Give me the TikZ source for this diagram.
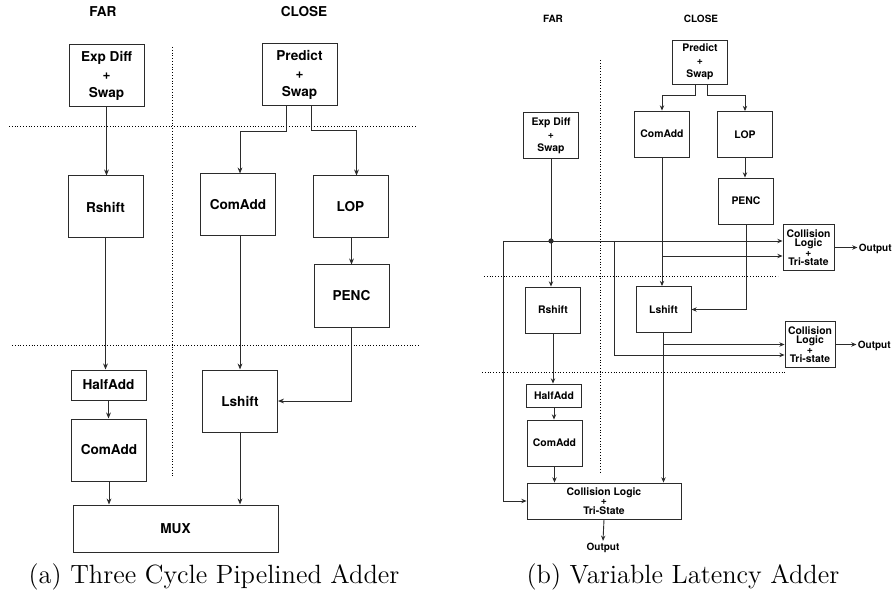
\documentclass[tikz,border=0pt]{standalone}
\usepackage{fontspec}
\setsansfont{TeX Gyre Heros}
\usetikzlibrary{arrows.meta,calc}
\definecolor{edge}{HTML}{2B2B2B}

\begin{document}
\begin{tikzpicture}[x=0.5pt,y=-0.5pt,>={Stealth[length=3pt,width=2.4pt]},
  blk/.style={draw=edge,line width=0.5pt,align=center,inner sep=0pt,font=\sffamily\bfseries\fontsize{6.8}{9}\selectfont,minimum width=37.5pt,minimum height=31pt},
  sblk/.style={blk,line width=0.45pt,font=\sffamily\bfseries\fontsize{5.2}{6.5}\selectfont,minimum width=27.5pt,minimum height=23pt},
  coll/.style={sblk,font=\sffamily\bfseries\fontsize{5.2}{4.75}\selectfont},
  lbl/.style={font=\sffamily\bfseries\fontsize{6.8}{8}\selectfont},
  slbl/.style={inner sep=0pt,font=\sffamily\bfseries\fontsize{5}{6}\selectfont},
  wire/.style={line width=0.5pt,edge,->},
  swire/.style={line width=0.45pt,edge,-{Stealth[length=2.6pt,width=2.2pt]}},
  cut/.style={densely dotted,line width=0.4pt},
  capt/.style={anchor=base,font=\fontsize{13.2}{15}\selectfont}]
\useasboundingbox (0,0) rectangle (894,593);

% (a) three cycle pipeline
\node[lbl] (farA) at (103,12) {FAR};
\node[lbl] (closeA) at (304,12) {CLOSE};
\node[blk] (edA) at (106.5,76) {Exp Diff\\+\\Swap};
\node[blk] (prA) at (299.5,75) {Predict\\+\\Swap};
\node[blk] (rsA) at (105.5,207) {Rshift};
\node[blk] (caA) at (238,205) {ComAdd};
\node[blk] (lopA) at (350.5,207) {LOP};
\node[blk] (peA) at (351.5,296) {PENC};
\node[blk,minimum height=15pt] (haA) at (108.5,385) {HalfAdd};
\node[blk] (cfA) at (109,450) {ComAdd};
\node[blk] (lsA) at (240,401) {Lshift};
\node[blk,minimum width=102.5pt,minimum height=23.5pt] (muxA) at (175.5,528.5) {MUX};
\draw[cut] (9,126) -- (416,126);
\draw[cut] (12,345) -- (419,345);
\draw[cut] (172,47) -- (172,477);
\draw[wire] (edA.south) -- (edA.south |- rsA.north);
\draw[wire] ($(prA.south)+(-13,0)$) -- ++(0,25) -| ($(caA.north)+(2,0)$);
\draw[wire] ($(prA.south)+(12,0)$) -- ++(0,24) -| ($(lopA.north)+(6,0)$);
\draw[wire] ($(lopA.south)+(1,0)$) -- ($(peA.north)$);
\draw[wire] (peA.south) |- (lsA.east);
\draw[wire] ($(caA.south)+(2,0)$) -- ($(caA.south |- lsA.north)+(2,0)$);
\draw[wire] (rsA.south) -- (rsA.south |- haA.north);
\draw[wire] (haA.south) -- (haA.south |- cfA.north);
\draw[wire] (cfA.south) -- (cfA.south |- muxA.north);
\draw[wire] (lsA.south) -- (lsA.south |- muxA.north);
\node[capt] (capA) at (214,583) {(a) Three Cycle Pipelined Adder};

% (b) variable latency
\node[lbl,font=\sffamily\bfseries\fontsize{5}{6}\selectfont] (farB) at (553,19) {FAR};
\node[lbl,font=\sffamily\bfseries\fontsize{5}{6}\selectfont] (closeB) at (701,19) {CLOSE};
\node[sblk,minimum height=22pt] (prB) at (700,62) {Predict\\+\\Swap};
\node[sblk] (edB) at (551,135.5) {Exp Diff\\+\\Swap};
\node[sblk] (caB) at (662,134) {ComAdd};
\node[sblk] (lopB) at (745,134.5) {LOP};
\node[sblk] (peB) at (746,201) {PENC};
\node[coll,minimum width=25.5pt] (clB1) at (808.5,247.5) {Collision\\Logic\\+\\Tri-state};
\node[sblk] (rsB) at (553,310) {Rshift};
\node[sblk] (lsB) at (663.5,309.5) {Lshift};
\node[coll,minimum width=25pt] (clB2) at (810,344.5) {Collision\\Logic\\+\\Tri-state};
\node[sblk,minimum height=11.5pt] (haB) at (554,395.5) {HalfAdd};
\node[sblk] (cfB) at (554.5,443) {ComAdd};
\node[coll,minimum width=77pt,minimum height=18pt] (clB3) at (604,501) {Collision Logic\\+\\Tri-State};
\node[slbl,anchor=west] (outB1) at ($(clB1.east)+(24,1)$) {Output};
\node[slbl,anchor=west] (outB2) at ($(clB2.east)+(22,1)$) {Output};
\node[slbl] (outB3) at (603,548) {Output};
\coordinate (busB) at (503,241);
\coordinate (busC) at (614,241);
\coordinate (inB1) at ($(clB1.west)+(0,8.5)$);
\coordinate (inB2) at ($(clB2.west)+(0,10.5)$);
\draw[cut] (484,276) -- (778,276);
\draw[cut] (482,372) -- (785,372);
\draw[cut] (600,60) -- (600,473);
\draw[swire] ($(prB.south)+(-5,0)$) -- ++(0,11) -| (caB.north);
\draw[swire] ($(prB.south)+(7,0)$) -- ++(0,11) -| (lopB.north);
\draw[swire] (lopB.south) -- (lopB.south |- peB.north);
\draw[swire] (edB.south) -- (edB.south |- rsB.north);
\fill[edge] (edB.south |- busB) circle (1.3pt);
\draw[swire] (busB) -- (busB -| clB1.west);
\draw[swire] (busB) |- (clB3.west);
\draw[swire] (busC) |- (inB2);
\draw[swire] (caB.south) -- (caB.south |- lsB.north);
\draw[swire] (caB.south |- inB1) -- (inB1);
\draw[swire] (peB.south) |- (lsB.east);
\draw[swire] (lsB.south) -- (lsB.south |- clB3.north);
\draw[swire] (lsB.south |- clB2.west) -- (clB2.west);
\draw[swire] (rsB.south) -- (rsB.south |- haB.north);
\draw[swire] (haB.south) -- (haB.south |- cfB.north);
\draw[swire] (cfB.south) -- (cfB.south |- clB3.north);
\draw[swire] (clB3.south) -- ($(outB3.north)+(0,-2)$);
\draw[swire] (clB1.east) -- ($(outB1.west |- clB1.east)+(-1,0)$);
\draw[swire] (clB2.east) -- ($(outB2.west |- clB2.east)+(-1,0)$);
\node[capt] (capB) at (683,583) {(b) Variable Latency Adder};
\end{tikzpicture}
\end{document}
